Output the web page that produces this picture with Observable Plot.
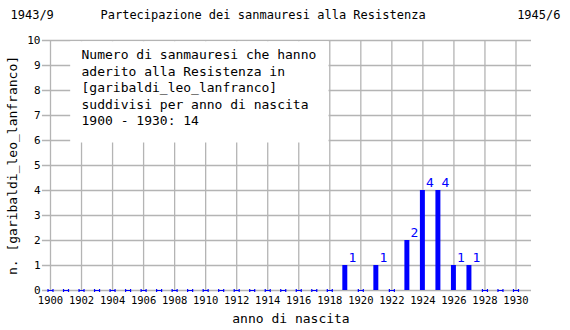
<!DOCTYPE html>
<html>
<head>
<meta charset="utf-8">
<script src="https://cdn.jsdelivr.net/npm/d3@7"></script>
<script src="https://cdn.jsdelivr.net/npm/@observablehq/plot@0.6"></script>
<style>
  html, body { margin: 0; padding: 0; background: #fff; }
  #chart svg { display: block; }
</style>
</head>
<body>
<div id="chart"></div>
<script>
const titleLeft = "1943/9";
const titleMain = "Partecipazione dei sanmauresi alla Resistenza";
const titleRight = "1945/6";
const xLabel = "anno di nascita";
const yLabel = "n. [garibaldi_leo_lanfranco]";
const noteLines = [
  "Numero di sanmauresi che hanno",
  "aderito alla Resistenza in",
  "[garibaldi_leo_lanfranco]",
  "suddivisi per anno di nascita",
  "1900 - 1930: 14"
];
const years = [1900,1901,1902,1903,1904,1905,1906,1907,1908,1909,1910,1911,1912,1913,1914,1915,1916,1917,1918,1919,1920,1921,1922,1923,1924,1925,1926,1927,1928,1929,1930];
const counts = [0,0,0,0,0,0,0,0,0,0,0,0,0,0,0,0,0,0,0,1,0,1,0,2,4,4,1,1,0,0,0];
const xTicks = [1900,1902,1904,1906,1908,1910,1912,1914,1916,1918,1920,1922,1924,1926,1928,1930];
const yTicks = [0,1,2,3,4,5,6,7,8,9,10];

const data = years.map((y, i) => ({year: y, n: counts[i]}));
const nonZero = data.filter(d => d.n > 0);
const zeros = data.filter(d => d.n === 0);

const mono = "DejaVu Sans Mono, monospace";
const blue = "#0000ff";
const grid = "#b4b4b4";

const capSymbol = {
  draw(ctx) {
    ctx.moveTo(-2.5, 0); ctx.lineTo(2.5, 0);
    ctx.moveTo(-2.5, -1.5); ctx.lineTo(-2.5, 1.5);
    ctx.moveTo(2.5, -1.5); ctx.lineTo(2.5, 1.5);
  }
};

const chart = Plot.plot({
  width: 570,
  height: 330,
  marginLeft: 50,
  marginRight: 39,
  marginTop: 40,
  marginBottom: 40,
  style: {fontFamily: mono, background: "#fff", overflow: "visible"},
  x: {domain: [1900, 1931], axis: null},
  y: {domain: [0, 10], axis: null},
  marks: [
    // horizontal grid with tick stubs on the left
    Plot.ruleY(yTicks, {y: d => d, x1: 1899.48, x2: 1931, stroke: grid, strokeWidth: 1.3, clip: false}),
    // vertical grid
    Plot.ruleX(xTicks, {x: d => d, y1: 0, y2: 10, stroke: grid, strokeWidth: 1.3}),
    // white note box hiding grid
    Plot.rect([0], {x1: 1901.3, x2: 1917.95, y1: 5.9, y2: 9.95, fill: "#fff"}),
    Plot.text([noteLines.join("\n")], {
      x: 1902, y: 10, text: d => d, dy: 7, lineAnchor: "top",
      textAnchor: "start", fontSize: 13, lineHeight: 1.27, fill: "#000"
    }),
    // bars
    Plot.rect(nonZero, {x1: d => d.year - 0.16, x2: d => d.year + 0.16, y1: 0, y2: "n", fill: blue}),
    // zero markers
    Plot.dot(zeros, {x: "year", y: 0, symbol: capSymbol, stroke: blue, strokeWidth: 1.2, fill: "none"}),
    // value labels
    Plot.text(nonZero, {x: "year", y: "n", text: d => String(d.n), dx: 7, dy: -8, fill: blue, fontSize: 13}),
    // y tick labels
    Plot.text(yTicks, {x: 1900, y: d => d, text: d => String(d), textAnchor: "end", dx: -10, fontSize: 11, fill: "#000"}),
    // x tick labels
    Plot.text(xTicks, {x: d => d, y: 0, text: d => String(d), dy: 10, fontSize: 10.5, fill: "#000"}),
    // titles
    Plot.text([titleLeft], {frameAnchor: "top-left", text: d => d, dx: -40, dy: -25, lineAnchor: "middle", textAnchor: "start", fontSize: 12, fill: "#000"}),
    Plot.text([titleMain], {frameAnchor: "top-left", text: d => d, dx: 50, dy: -25, lineAnchor: "middle", textAnchor: "start", fontSize: 12, fill: "#000"}),
    Plot.text([titleRight], {frameAnchor: "top-right", text: d => d, dx: 29, dy: -25, lineAnchor: "middle", textAnchor: "end", fontSize: 12, fill: "#000"}),
    // axis labels
    Plot.text([xLabel], {frameAnchor: "bottom", text: d => d, dy: 28, lineAnchor: "middle", fontSize: 13, fill: "#000"}),
    Plot.text([yLabel], {frameAnchor: "left", text: d => d, dx: -38, rotate: -90, textAnchor: "middle", lineAnchor: "middle", fontSize: 13, fill: "#000"})
  ]
});

document.getElementById("chart").appendChild(chart);
</script>
</body>
</html>
